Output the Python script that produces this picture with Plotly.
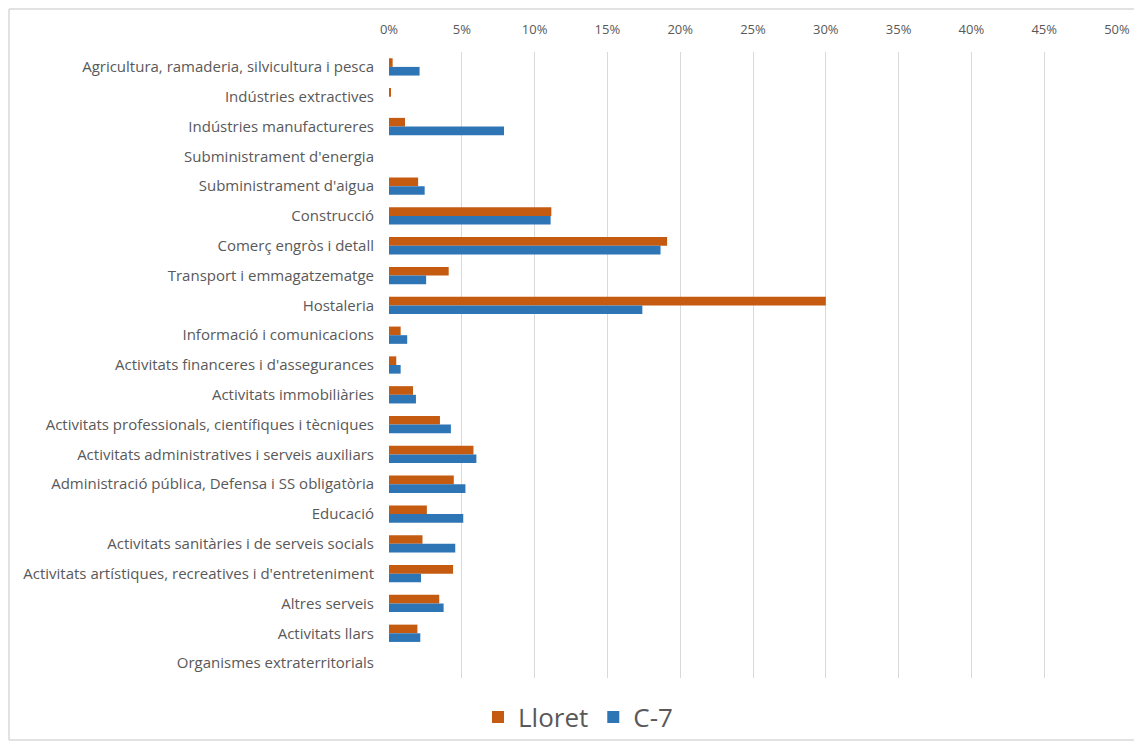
import plotly.graph_objects as go

categories = [
    "Agricultura, ramaderia, silvicultura i pesca",
    "Indústries extractives",
    "Indústries manufactureres",
    "Subministrament d'energia",
    "Subministrament d'aigua",
    "Construcció",
    "Comerç engròs i detall",
    "Transport i emmagatzematge",
    "Hostaleria",
    "Informació i comunicacions",
    "Activitats financeres i d'assegurances",
    "Activitats immobiliàries",
    "Activitats professionals, científiques i tècniques",
    "Activitats administratives i serveis auxiliars",
    "Administració pública, Defensa i SS obligatòria",
    "Educació",
    "Activitats sanitàries i de serveis socials",
    "Activitats artístiques, recreatives i d'entreteniment",
    "Altres serveis",
    "Activitats llars",
    "Organismes extraterritorials",
]

lloret = [0.25, 0.1, 1.1, 0.0, 2.0, 11.15, 19.1, 4.1, 30.0, 0.8, 0.5, 1.65,
          3.5, 5.8, 4.45, 2.6, 2.3, 4.4, 3.45, 1.95, 0.0]
c7 = [2.1, 0.0, 7.9, 0.0, 2.45, 11.1, 18.65, 2.55, 17.4, 1.25, 0.8, 1.85,
      4.25, 6.0, 5.25, 5.1, 4.55, 2.2, 3.75, 2.15, 0.0]

x_ticks = [0, 5, 10, 15, 20, 25, 30, 35, 40, 45, 50]
x_tick_labels = [f"{t}%" for t in x_ticks]

ORANGE = "#C55A11"
BLUE = "#2E75B6"
GREY_TEXT = "#595959"
GRID = "#D9D9D9"

fig = go.Figure()
fig.add_trace(go.Bar(y=categories, x=lloret, name="Lloret", orientation="h",
                     marker=dict(color=ORANGE, line=dict(width=0))))
fig.add_trace(go.Bar(y=categories, x=c7, name="C-7", orientation="h",
                     marker=dict(color=BLUE, line=dict(width=0))))

OFF = 8  # page body offset
W, H = 1142 - 2 * OFF, 749 - 2 * OFF
L, T = 389 - OFF, 52 - OFF
pw, ph = 728, 626
R = W - L - pw
B = H - T - ph


def px_x(x):
    return (x - OFF - L) / pw


def px_y(y):
    return (T + ph - (y - OFF)) / ph


fx0, fx1 = px_x(OFF + 1), px_x(OFF + W)
fy0, fy1 = px_y(OFF + H - 1), px_y(OFF + 1)
frame_line = dict(color=GRID, width=1.5)

fig.update_layout(
    width=W, height=H,
    margin=dict(l=L, r=R, t=T, b=B, autoexpand=False),
    paper_bgcolor="white", plot_bgcolor="white",
    barmode="group", bargap=0.42, bargroupgap=0,
    font=dict(family="Open Sans", color=GREY_TEXT, size=12),
    showlegend=True,
    legend=dict(orientation="h", x=px_x(578), xanchor="center",
                yref="container", y=1 - (717 - OFF) / H, yanchor="middle",
                font=dict(size=26, color=GREY_TEXT),
                bgcolor="rgba(0,0,0,0)",
                itemwidth=30, traceorder="normal"),
    xaxis=dict(side="top", range=[0, 50], tickvals=x_ticks, ticktext=x_tick_labels,
               showgrid=True, gridcolor=GRID, gridwidth=1, zeroline=False,
               showline=False, ticks="", ticklabelstandoff=14,
               tickfont=dict(size=13, color=GREY_TEXT)),
    yaxis=dict(autorange="reversed", showgrid=False, zeroline=False, showline=False,
               ticks="", ticklabelstandoff=14,
               tickfont=dict(size=15, color=GREY_TEXT)),
    shapes=[
        dict(type="line", xref="paper", yref="paper", x0=fx0, x1=fx0, y0=fy0, y1=fy1,
             line=frame_line, layer="below"),
        dict(type="line", xref="paper", yref="paper", x0=fx0, x1=fx1, y0=fy1, y1=fy1,
             line=frame_line, layer="below"),
        dict(type="line", xref="paper", yref="paper", x0=fx0, x1=fx1, y0=fy0, y1=fy0,
             line=frame_line, layer="below"),
    ],
)

fig.write_html("out.html")
